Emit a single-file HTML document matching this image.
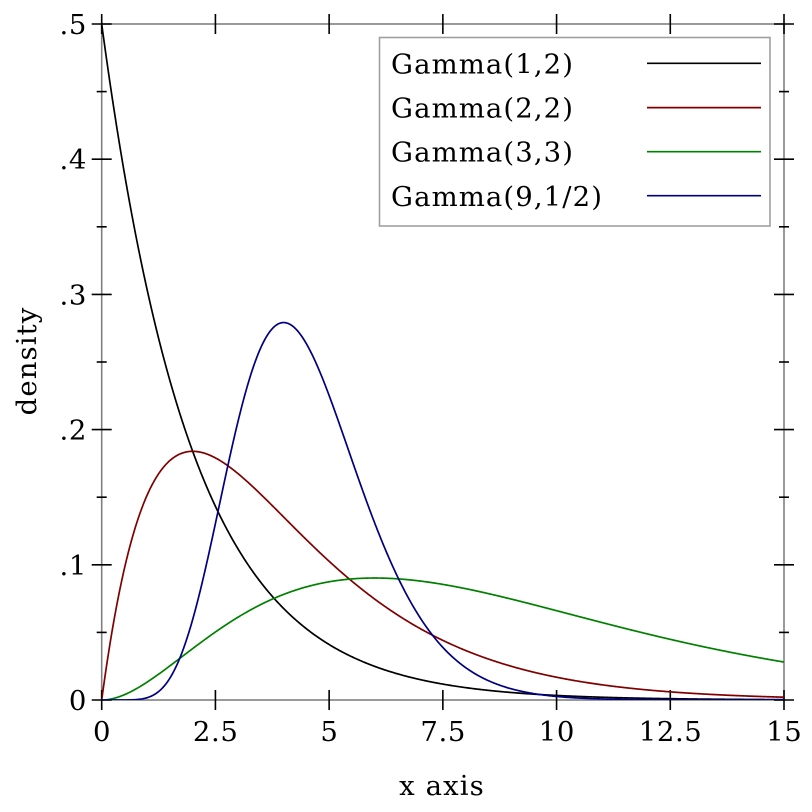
<!DOCTYPE html>
<html>
<head>
<meta charset="utf-8">
<style>
  html, body { margin:0; padding:0; background:#fff; }
  svg { display:block; }
  text { font-family: "DejaVu Serif", "Liberation Serif", serif; fill:#000; }
  .lbl { letter-spacing: 1.1px; }
  .tk { letter-spacing: 0.6px; }
</style>
</head>
<body>
<svg id="chart" width="812" height="812" viewBox="0 0 812 812" xmlns="http://www.w3.org/2000/svg">
  <rect x="0" y="0" width="812" height="812" fill="#fff"/>
  <defs>
    <clipPath id="plotclip"><rect x="101.7" y="24" width="682.3" height="676"/></clipPath>
  </defs>
  <rect x="101.7" y="24" width="682.3" height="676" fill="none" stroke="#808080" stroke-width="1.6"/>
  <g id="ticks" stroke="#000" stroke-width="1.6"></g>
  <g id="curves" clip-path="url(#plotclip)" fill="none" stroke-width="1.7" stroke-linejoin="round"></g>

  <g font-size="27.5" text-anchor="end" class="tk">
    <text x="87" y="710">0</text>
    <text x="87" y="574.8">.1</text>
    <text x="87" y="439.6">.2</text>
    <text x="87" y="304.4">.3</text>
    <text x="87" y="169.2">.4</text>
    <text x="87" y="34">.5</text>
  </g>
  <g font-size="27.5" text-anchor="middle" class="tk">
    <text x="102" y="741">0</text>
    <text x="215.7" y="741">2.5</text>
    <text x="329.4" y="741">5</text>
    <text x="443.2" y="741">7.5</text>
    <text x="556.9" y="741">10</text>
    <text x="670.6" y="741">12.5</text>
    <text x="784.3" y="741">15</text>
  </g>
  <text x="442" y="795" font-size="27.5" text-anchor="middle" class="lbl">x axis</text>
  <text x="0" y="0" font-size="27.5" text-anchor="middle" class="lbl" transform="translate(36,361) rotate(-90)">density</text>

  <g>
    <rect x="379.5" y="37.5" width="390.5" height="188.5" fill="#fff" stroke="#a0a0a0" stroke-width="1.6"/>
    <g font-size="27.5" class="lbl">
      <text x="391" y="73.3">Gamma(1,2)</text>
      <text x="391" y="117.5">Gamma(2,2)</text>
      <text x="391" y="161.7">Gamma(3,3)</text>
      <text x="391" y="205.8">Gamma(9,1/2)</text>
    </g>
    <line x1="647" y1="63.3" x2="761" y2="63.3" stroke="#000" stroke-width="1.7"/>
    <line x1="647" y1="107.6" x2="761" y2="107.6" stroke="#800000" stroke-width="1.7"/>
    <line x1="647" y1="151.7" x2="761" y2="151.7" stroke="#008000" stroke-width="1.7"/>
    <line x1="647" y1="195.7" x2="761" y2="195.7" stroke="#000080" stroke-width="1.7"/>
  </g>
</svg>
<script>
(function(){
  var NS = "http://www.w3.org/2000/svg";
  var x0 = 101.7, x1 = 784, y0 = 700, yTop = 24;
  var sx = (x1 - x0) / 15, sy = (y0 - yTop) / 0.5;
  function X(v){ return x0 + v * sx; }
  function Y(v){ return y0 - v * sy; }
  var ticks = document.getElementById("ticks");
  function line(a,b,c,d){
    var l = document.createElementNS(NS, "line");
    l.setAttribute("x1", a); l.setAttribute("y1", b);
    l.setAttribute("x2", c); l.setAttribute("y2", d);
    ticks.appendChild(l);
  }
  for (var i = 0; i <= 10; i++) {
    var v = i * 0.05, y = Y(v);
    var h = (i % 2 === 0) ? 10 : 5;
    line(x0 - h, y, x0 + h, y);
    line(x1 - h, y, x1 + h, y);
  }
  for (var j = 0; j <= 6; j++) {
    var x = X(j * 2.5);
    line(x, y0 - 10, x, y0 + 10);
    line(x, yTop - 10, x, yTop + 10);
  }
  var curves = document.getElementById("curves");
  function fact(n){ var r = 1; for (var k = 2; k <= n; k++) r *= k; return r; }
  function gammaPdf(k, th){
    var c = 1 / (fact(k - 1) * Math.pow(th, k));
    return function(x){ return c * Math.pow(x, k - 1) * Math.exp(-x / th); };
  }
  var series = [
    [gammaPdf(1, 2), "#000000"],
    [gammaPdf(2, 2), "#800000"],
    [gammaPdf(3, 3), "#008000"],
    [gammaPdf(9, 0.5), "#000080"]
  ];
  series.forEach(function(s){
    var f = s[0], d = "";
    var N = 800;
    for (var n = 0; n <= N; n++) {
      var xv = 15 * n / N;
      var yv = f(xv);
      d += (n === 0 ? "M" : "L") + X(xv).toFixed(2) + "," + Y(yv).toFixed(2);
    }
    var p = document.createElementNS(NS, "path");
    p.setAttribute("d", d);
    p.setAttribute("stroke", s[1]);
    curves.appendChild(p);
  });
})();
</script>
</body>
</html>
